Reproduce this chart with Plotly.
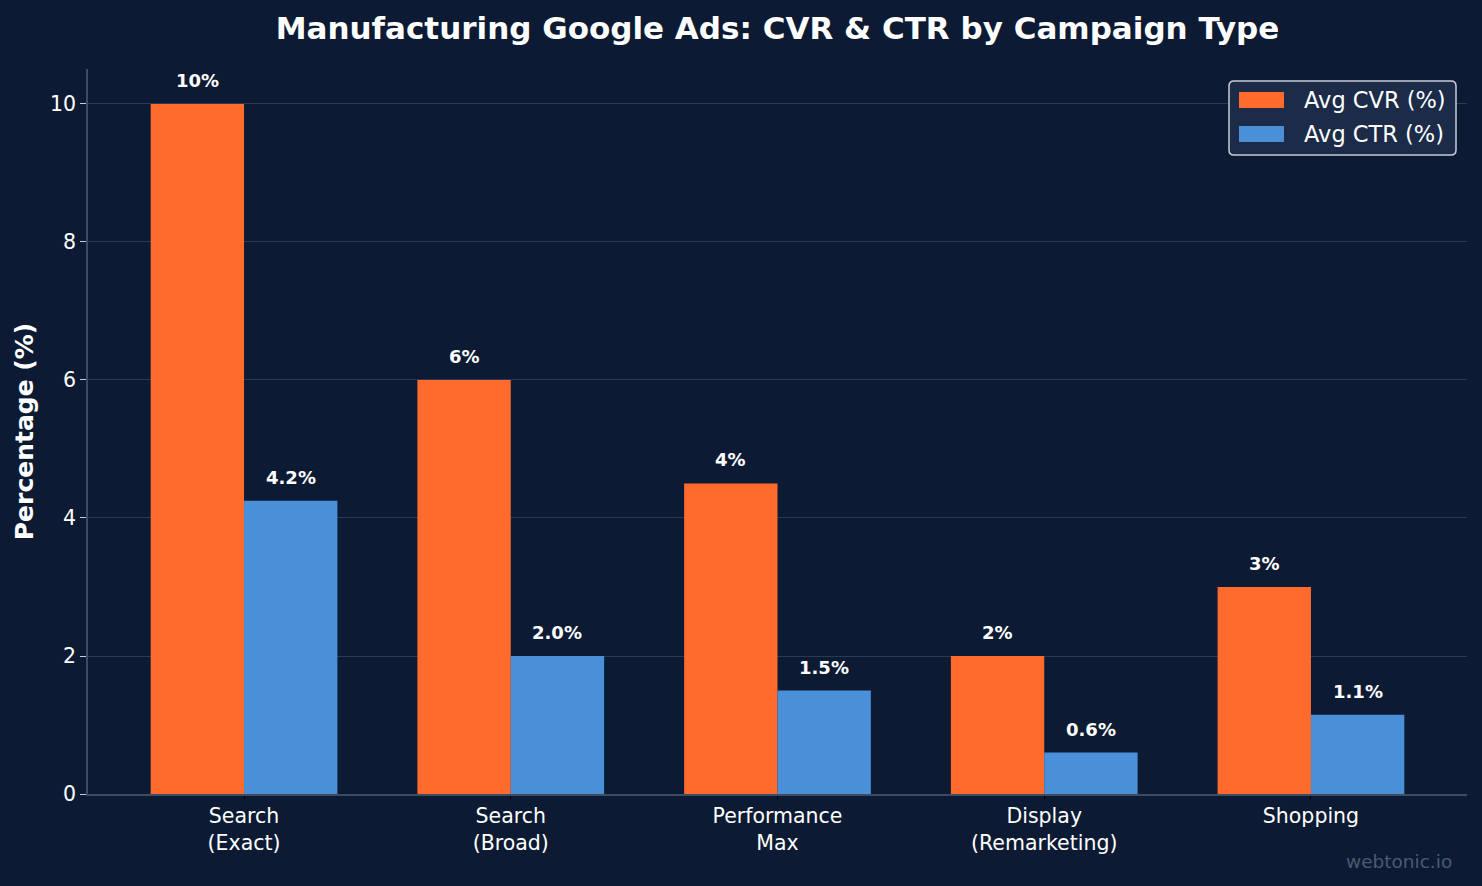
import plotly.graph_objects as go

categories = ["Search<br>(Exact)", "Search<br>(Broad)", "Performance<br>Max", "Display<br>(Remarketing)", "Shopping"]
series_names = ["Avg CVR (%)", "Avg CTR (%)"]
cvr = [10.0, 6.0, 4.5, 2.0, 3.0]
ctr = [4.25, 2.0, 1.5, 0.6, 1.15]
cvr_labels = ["10%", "6%", "4%", "2%", "3%"]
ctr_labels = ["4.2%", "2.0%", "1.5%", "0.6%", "1.1%"]

BG = "#0c1b33"
ORANGE = "#ff6b2d"
BLUE = "#4a90d9"
FONT = "DejaVu Sans"

# plot area in pixels
L, R, T, B = 88, 1467, 69, 794
PW, PH = R - L, B - T


def px(x):
    return (x - L) / PW


def py(y):
    return (B - y) / PH


fig = go.Figure()
fig.add_trace(go.Bar(x=categories, y=cvr, name=series_names[0], marker=dict(color=ORANGE, line=dict(width=0)),
                     showlegend=False))
fig.add_trace(go.Bar(x=categories, y=ctr, name=series_names[1], marker=dict(color=BLUE, line=dict(width=0)),
                     showlegend=False))

for i in range(len(categories)):
    fig.add_annotation(x=i - 0.175, y=cvr[i], text="<b>%s</b>" % cvr_labels[i], showarrow=False,
                       yanchor="bottom", yshift=11, font=dict(family=FONT, size=18, color="white"))
    fig.add_annotation(x=i + 0.175, y=ctr[i], text="<b>%s</b>" % ctr_labels[i], showarrow=False,
                       yanchor="bottom", yshift=11, font=dict(family=FONT, size=18, color="white"))

# watermark
fig.add_annotation(xref="paper", yref="paper", x=px(1454), y=py(861), text="webtonic.io", showarrow=False,
                   xanchor="right", yanchor="middle", font=dict(family=FONT, size=18.5, color="#4a5a72"))

# custom legend
x0, x1, y0, y1, r = 1229, 1456, 81, 155, 5
path = (f"M {px(x0 + r)} {py(y0)} L {px(x1 - r)} {py(y0)} Q {px(x1)} {py(y0)} {px(x1)} {py(y0 + r)} "
        f"L {px(x1)} {py(y1 - r)} Q {px(x1)} {py(y1)} {px(x1 - r)} {py(y1)} "
        f"L {px(x0 + r)} {py(y1)} Q {px(x0)} {py(y1)} {px(x0)} {py(y1 - r)} "
        f"L {px(x0)} {py(y0 + r)} Q {px(x0)} {py(y0)} {px(x0 + r)} {py(y0)} Z")
fig.add_shape(type="path", path=path, xref="paper", yref="paper", fillcolor="#1b2b48",
              line=dict(color="#c8ccd4", width=1.5), layer="above")
for k, (col, cy) in enumerate([(ORANGE, 100), (BLUE, 134)]):
    fig.add_shape(type="rect", xref="paper", yref="paper", x0=px(1239), x1=px(1284), y0=py(cy - 8), y1=py(cy + 8),
                  fillcolor=col, line=dict(width=0), layer="above")
    fig.add_annotation(xref="paper", yref="paper", x=px(1302), y=py(cy), text=series_names[k], showarrow=False,
                       xanchor="left", yanchor="middle", font=dict(family=FONT, size=22.5, color="white"))

fig.update_layout(
    width=1482, height=886,
    paper_bgcolor=BG, plot_bgcolor=BG,
    margin=dict(l=L, r=1482 - R, t=T, b=886 - B),
    barmode="group", bargap=0.3, bargroupgap=0,
    font=dict(family=FONT, color="white", size=21),
    showlegend=False,
    title=dict(text="<b>Manufacturing Google Ads: CVR & CTR by Campaign Type</b>",
               x=0.5, xref="paper", xanchor="center", y=1 - 28 / 886, yanchor="middle",
               font=dict(family=FONT, size=31, color="white")),
    xaxis=dict(range=[-0.585, 4.585], showgrid=False, showline=True, linecolor="#3d4b63", linewidth=1.5,
               ticks="outside", ticklen=3, tickcolor="#000000", tickfont=dict(family=FONT, size=20.5, color="white"),
               zeroline=False),
    yaxis=dict(range=[0, 10.507], showgrid=True, gridcolor="#2a3a55", gridwidth=1, showline=True,
               linecolor="#3d4b63", linewidth=1.5, ticks="outside", ticklen=6, tickcolor="#c8ccd4",
               tick0=0, dtick=2, tickfont=dict(family=FONT, size=20.5, color="white"), zeroline=False,
               title=dict(text="<b>Percentage (%)</b>", font=dict(family=FONT, size=25, color="white"), standoff=9)),
)

fig.write_html("out.html")
